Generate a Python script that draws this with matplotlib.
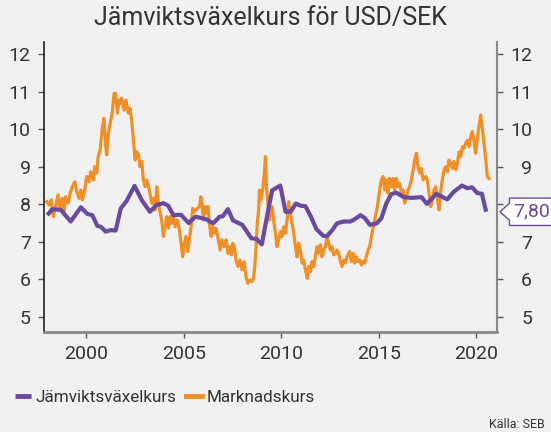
import matplotlib
matplotlib.use("Agg")
import matplotlib.pyplot as plt
from matplotlib.patches import Polygon
from matplotlib.transforms import blended_transform_factory, ScaledTranslation

plt.rcParams["font.family"] = ["Roboto", "DejaVu Sans"]

##==============================================================================

# Data

# Jämviktsväxelkurs (equilibrium rate)
eq_years = [1997.99, 1998.25, 1998.68, 1999.19, 1999.71, 2000.05, 2000.30, 2000.56,
            2000.74, 2000.99, 2001.25, 2001.50, 2001.76, 2002.05, 2002.47, 2002.85,
            2003.26, 2003.60, 2003.95, 2004.20, 2004.46, 2004.85, 2005.25, 2005.60,
            2006.14, 2006.50, 2006.84, 2007.00, 2007.26, 2007.52, 2008.00, 2008.47,
            2008.72, 2009.00, 2009.30, 2009.53, 2009.95, 2010.22, 2010.48, 2010.75,
            2011.00, 2011.24, 2011.52, 2011.80, 2012.15, 2012.35, 2012.62, 2012.86,
            2013.20, 2013.55, 2013.77, 2014.07, 2014.29, 2014.55, 2014.90, 2015.14,
            2015.40, 2015.65, 2015.90, 2016.30, 2016.68, 2017.20, 2017.48, 2017.95,
            2018.52, 2018.87, 2019.28, 2019.54, 2019.80, 2020.06, 2020.30, 2020.52]
eq_values = [7.71, 7.87, 7.85, 7.54, 7.92, 7.74, 7.71, 7.42,
             7.40, 7.27, 7.31, 7.30, 7.89, 8.08, 8.49, 8.10,
             7.80, 7.98, 8.03, 7.96, 7.71, 7.72, 7.50, 7.67,
             7.60, 7.49, 7.67, 7.68, 7.87, 7.57, 7.45, 7.09,
             7.08, 6.93, 7.76, 8.37, 8.50, 7.80, 7.80, 8.02,
             7.96, 7.95, 7.67, 7.34, 7.16, 7.15, 7.31, 7.49,
             7.54, 7.54, 7.60, 7.71, 7.63, 7.45, 7.49, 7.63,
             8.03, 8.27, 8.31, 8.19, 8.17, 8.19, 8.01, 8.28,
             8.13, 8.34, 8.50, 8.43, 8.45, 8.30, 8.28, 7.80]

# Marknadskurs (market rate)
mkt_years = [1997.96, 1998.08, 1998.20, 1998.30, 1998.42, 1998.54, 1998.64, 1998.76,
             1998.85, 1998.93, 1999.06, 1999.16, 1999.28, 1999.40, 1999.50, 1999.62,
             1999.71, 1999.79, 1999.91, 2000.01, 2000.13, 2000.22, 2000.36, 2000.42,
             2000.53, 2000.60, 2000.70, 2000.77, 2000.82, 2000.90, 2000.99, 2001.04,
             2001.11, 2001.25, 2001.33, 2001.42, 2001.50, 2001.59, 2001.67, 2001.73,
             2001.81, 2001.93, 2002.03, 2002.15, 2002.24, 2002.32, 2002.38, 2002.44,
             2002.50, 2002.58, 2002.67, 2002.75, 2002.84, 2002.92, 2003.01, 2003.09,
             2003.23, 2003.35, 2003.44, 2003.52, 2003.61, 2003.69, 2003.78, 2003.86,
             2003.95, 2004.04, 2004.12, 2004.21, 2004.29, 2004.38, 2004.46, 2004.55,
             2004.67, 2004.77, 2004.86, 2004.94, 2005.03, 2005.11, 2005.20, 2005.28,
             2005.37, 2005.45, 2005.52, 2005.80, 2005.87, 2005.93, 2006.00, 2006.09,
             2006.17, 2006.24, 2006.31, 2006.40, 2006.48, 2006.57, 2006.65, 2006.74,
             2006.86, 2006.96, 2007.06, 2007.17, 2007.27, 2007.34, 2007.44, 2007.51,
             2007.59, 2007.68, 2007.78, 2007.88, 2007.99, 2008.09, 2008.19, 2008.28,
             2008.40, 2008.50, 2008.57, 2008.64, 2008.71, 2008.77, 2008.84, 2008.88,
             2008.96, 2009.05, 2009.13, 2009.19, 2009.24, 2009.31, 2009.39, 2009.48,
             2009.53, 2009.61, 2009.70, 2009.78, 2009.87, 2009.96, 2010.04, 2010.13,
             2010.21, 2010.30, 2010.38, 2010.47, 2010.55, 2010.64, 2010.73, 2010.81,
             2010.90, 2010.98, 2011.07, 2011.15, 2011.24, 2011.34, 2011.41, 2011.50,
             2011.58, 2011.67, 2011.75, 2011.84, 2011.92, 2012.01, 2012.09, 2012.18,
             2012.27, 2012.35, 2012.44, 2012.52, 2012.61, 2012.69, 2012.78, 2012.86,
             2012.95, 2013.04, 2013.12, 2013.21, 2013.29, 2013.38, 2013.51, 2013.60,
             2013.69, 2013.77, 2013.86, 2013.94, 2014.03, 2014.11, 2014.20, 2014.28,
             2014.37, 2014.46, 2014.54, 2014.66, 2014.80, 2014.94, 2015.05, 2015.14,
             2015.23, 2015.31, 2015.40, 2015.48, 2015.57, 2015.65, 2015.74, 2015.82,
             2015.91, 2015.99, 2016.08, 2016.17, 2016.25, 2016.34, 2016.42, 2016.51,
             2016.59, 2016.68, 2016.77, 2016.85, 2016.94, 2017.02, 2017.11, 2017.19,
             2017.28, 2017.42, 2017.50, 2017.59, 2017.67, 2017.76, 2017.84, 2017.93,
             2018.01, 2018.10, 2018.19, 2018.27, 2018.36, 2018.44, 2018.53, 2018.61,
             2018.70, 2018.79, 2018.87, 2018.96, 2019.04, 2019.13, 2019.21, 2019.30,
             2019.38, 2019.47, 2019.56, 2019.64, 2019.73, 2019.81, 2019.90, 2019.98,
             2020.07, 2020.15, 2020.24, 2020.33, 2020.41, 2020.50, 2020.58, 2020.67]
mkt_values = [8.07, 7.98, 8.12, 7.67, 7.94, 8.25, 7.85, 8.16,
              7.80, 8.20, 8.03, 8.29, 8.47, 8.60, 8.34, 8.16,
              8.38, 8.12, 8.38, 8.74, 8.60, 8.87, 8.65, 9.00,
              8.83, 9.27, 9.45, 9.80, 10.07, 10.29, 9.54, 9.32,
              9.85, 10.25, 10.47, 10.96, 10.96, 10.43, 10.78, 10.69,
              10.83, 10.51, 10.78, 10.43, 10.56, 10.25, 9.89, 9.54,
              9.18, 9.40, 9.32, 9.00, 9.14, 8.65, 8.47, 8.65,
              8.38, 8.03, 8.16, 7.85, 8.47, 8.03, 7.80, 7.58,
              7.14, 7.40, 7.67, 7.36, 7.67, 7.49, 7.71, 7.40,
              7.58, 7.32, 6.96, 6.60, 6.96, 7.14, 6.74, 7.05,
              7.40, 7.89, 7.80, 7.94, 8.20, 8.03, 7.58, 7.94,
              7.76, 7.94, 7.49, 7.14, 7.40, 7.23, 7.36, 7.14,
              6.78, 7.05, 6.87, 7.05, 6.69, 6.87, 6.65, 6.96,
              6.87, 6.51, 6.34, 6.51, 6.25, 6.47, 6.07, 5.89,
              5.98, 5.94, 6.02, 6.34, 6.87, 7.49, 7.85, 8.38,
              8.12, 8.38, 8.83, 9.27, 8.47, 8.03, 7.58, 7.85,
              7.94, 7.58, 7.23, 6.87, 7.05, 7.27, 7.14, 7.40,
              7.23, 7.58, 8.07, 7.76, 7.49, 7.23, 6.87, 6.60,
              6.96, 6.78, 6.43, 6.51, 6.25, 6.02, 6.34, 6.20,
              6.47, 6.34, 6.60, 6.87, 6.69, 6.92, 6.60, 6.78,
              6.87, 7.14, 6.96, 6.78, 6.87, 6.65, 6.69, 6.78,
              6.69, 6.47, 6.34, 6.51, 6.43, 6.60, 6.74, 6.47,
              6.69, 6.43, 6.60, 6.47, 6.51, 6.38, 6.47, 6.43,
              6.60, 6.78, 6.87, 7.23, 7.58, 7.94, 8.38, 8.65,
              8.74, 8.38, 8.65, 8.29, 8.69, 8.47, 8.69, 8.38,
              8.69, 8.47, 8.56, 8.29, 8.38, 8.03, 8.20, 8.38,
              8.47, 8.65, 8.92, 9.18, 9.36, 9.00, 8.83, 8.96,
              8.65, 8.74, 8.65, 8.29, 7.94, 8.12, 8.38, 8.47,
              8.20, 7.85, 8.38, 8.65, 8.92, 9.00, 8.87, 9.18,
              9.09, 8.96, 9.14, 8.92, 9.09, 9.40, 9.27, 9.54,
              9.49, 9.63, 9.71, 9.54, 9.80, 9.94, 9.67, 9.36,
              9.76, 10.07, 10.38, 9.98, 9.63, 9.18, 8.74, 8.69]

year_ticks = [2000, 2005, 2010, 2015, 2020]
value_ticks = [5, 6, 7, 8, 9, 10, 11, 12]

##==============================================================================

# Styles

bg = "#eff0ef"
purple = "#6a4a9e"
orange = "#ef8f27"
txt = "#333333"

fig = plt.figure(figsize=(5.51, 4.32), dpi=100, facecolor=bg)
ax = fig.add_axes([44/551, 1 - 331.5/432, (496.5 - 44)/551, (331.5 - 42)/432])
ax.set_facecolor(bg)

ax.plot(mkt_years, mkt_values, color=orange, lw=2.3, label="Marknadskurs", zorder=2)
ax.plot(eq_years, eq_values, color=purple, lw=3.0, solid_joinstyle="round",
        solid_capstyle="butt", label="Jämviktsväxelkurs", zorder=3)

ax.set_xlim(1997.82, 2021.05)
ax.set_ylim(4.605, 12.33)
ax.set_xticks(year_ticks)
ax.set_yticks(value_ticks)

ax.spines["top"].set_visible(False)
ax.spines["left"].set_color("#222222")
ax.spines["left"].set_linewidth(1.2)
ax.spines["right"].set_color("#888888")
ax.spines["right"].set_linewidth(1.5)
ax.spines["bottom"].set_color("#888888")
ax.spines["bottom"].set_linewidth(2.0)

ax.tick_params(axis="x", direction="out", length=4, width=1, color="#555555",
               pad=6, labelsize=14, labelcolor=txt)
ax.tick_params(axis="y", direction="out", length=4, width=1, pad=5.5,
               color="#555555", labelsize=14, labelcolor=txt,
               left=True, right=True, labelleft=True, labelright=True)

# right-hand labels are right-aligned; the callout box takes the place of its "8"
last = eq_values[-1]
for val, t in zip(value_ticks, ax.yaxis.get_major_ticks()):
    t.label2.set_horizontalalignment("right")
    t.label2.set_transform(ax.get_yaxis_transform(which="tick2") +
                           ScaledTranslation(35.5/100, 0, fig.dpi_scale_trans))
    if round(val) == round(last):
        t.label2.set_visible(False)

ax.set_title("Jämviktsväxelkurs för USD/SEK", fontsize=18, color=txt, pad=12)

##==============================================================================

# Callout with the latest equilibrium value

base = blended_transform_factory(ax.transAxes, ax.transData)
anchor = ScaledTranslation(1.0, last, base)
shape = Polygon([(3.5, 0), (13, 8.5), (13, 13.7), (80, 13.7), (80, -13.7),
                 (13, -13.7), (13, -8.5)], closed=True, transform=anchor,
                facecolor="white", edgecolor=purple, lw=1.0, clip_on=False, zorder=5)
ax.add_artist(shape)
ax.annotate(f"{last:.2f}".replace(".", ","), xy=(1.0, last), xycoords=base,
            xytext=(12, 0), textcoords="offset points", ha="left", va="center",
            fontsize=14, color=purple, zorder=6, annotation_clip=False)

##==============================================================================

# Legend and source

fig.legend(handles=ax.get_lines()[::-1], loc="center left",
           bbox_to_anchor=(15/551, 1 - 397/432), ncol=2, frameon=False,
           fontsize=12.3, handlelength=0.95, handletextpad=0.25, columnspacing=0.55,
           borderpad=0, borderaxespad=0, labelcolor=txt)
for h in fig.legends[0].legend_handles:
    h.set_linewidth(3.5)

fig.text(545/551, 1 - 425/432, "Källa: SEB", ha="right", va="center",
         fontsize=9, color=txt)

fig.savefig("out.png", dpi=100, facecolor=bg)
